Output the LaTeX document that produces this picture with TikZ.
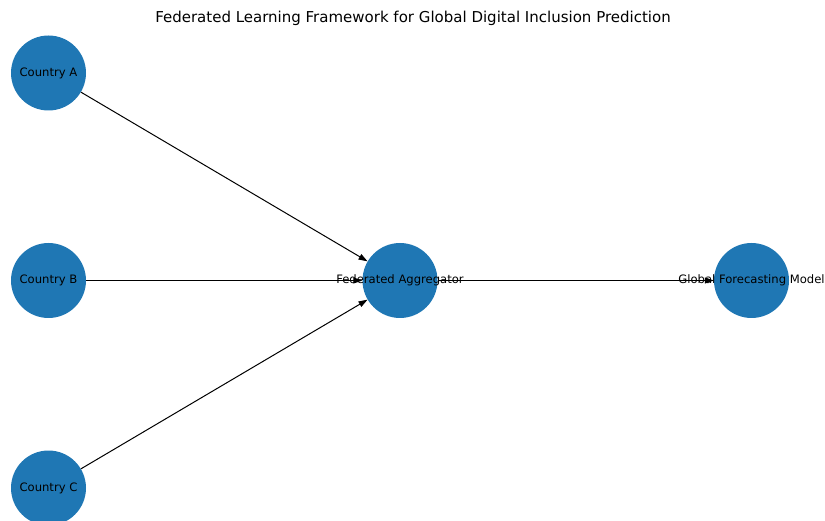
\documentclass[tikz,border=0pt]{standalone}
\usepackage{fontspec}
\setmainfont{DejaVu Sans}
\usetikzlibrary{arrows.meta}
\definecolor{nodeblue}{RGB}{31,119,180}
\tikzset{
  dot/.style={circle, fill=nodeblue, minimum size=75pt, inner sep=0pt},
  lbl/.style={font=\fontsize{11.6pt}{14pt}\selectfont, text=black, inner sep=0pt},
  edge/.style={line width=1pt, -{Triangle[length=9pt,width=6pt]}}
}
\begin{document}
\begin{tikzpicture}[x=1pt,y=-1pt]
\useasboundingbox (0,0) rectangle (825,521);
\node[font=\fontsize{15pt}{18pt}\selectfont, inner sep=0pt] (title) at (413,18) {Federated Learning Framework for Global Digital Inclusion Prediction};
\node[dot] (a) at (48.5,73) {};
\node[dot] (b) at (48.5,280.5) {};
\node[dot] (c) at (48.5,488) {};
\node[dot] (agg) at (400,280.5) {};
\node[dot] (glob) at (751.5,280.5) {};
\draw[edge] (a) -- (agg);
\draw[edge] (b) -- (agg);
\draw[edge] (c) -- (agg);
\draw[edge] (agg) -- (glob);
\node[lbl] (la) at (a) {Country A};
\node[lbl] (lb) at (b) {Country B};
\node[lbl] (lc) at (c) {Country C};
\node[lbl] (lagg) at (agg) {Federated Aggregator};
\node[lbl] (lglob) at (glob) {Global Forecasting Model};
\end{tikzpicture}
\end{document}
